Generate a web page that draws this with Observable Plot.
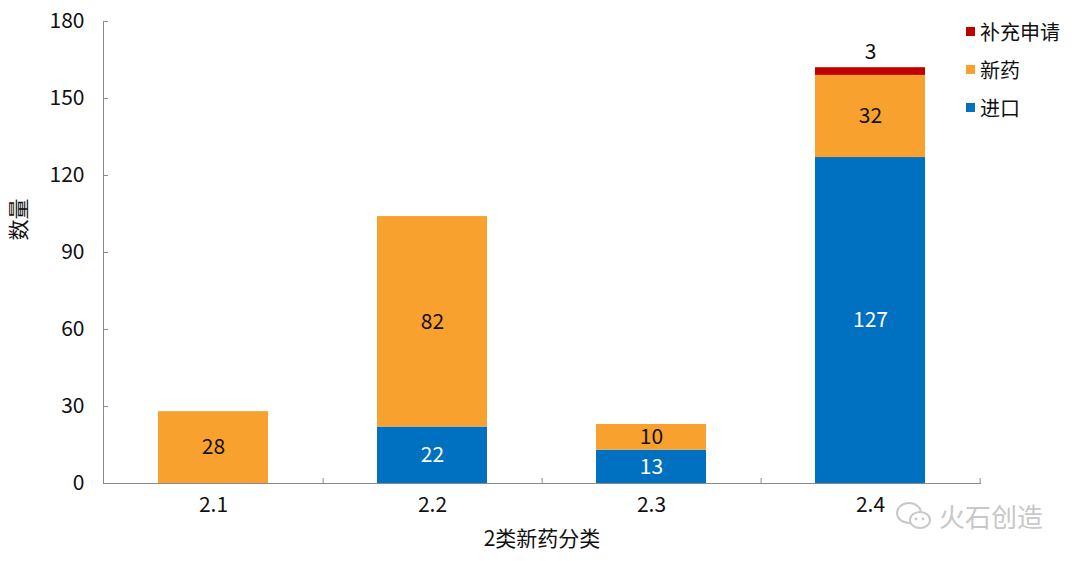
<!DOCTYPE html>
<html><head><meta charset="utf-8">
<script src="https://cdn.jsdelivr.net/npm/d3@7"></script>
<script src="https://cdn.jsdelivr.net/npm/@observablehq/plot@0.6"></script>
<style>
body{margin:0;background:#fff;font-family:"Noto Sans CJK SC",sans-serif;}
#wrap{position:relative;width:1080px;height:561px;}
#legend{position:absolute;left:966px;top:12px;font-size:20px;color:#111;}
#legend div{display:flex;align-items:center;height:38px;}
#legend span.sw{display:inline-block;width:9px;height:9px;margin-right:5px;}
#wm{position:absolute;left:893px;top:497px;font-size:26px;color:#c8c8c8;display:flex;align-items:center;}
</style></head><body>
<div id="wrap"><div id="chart"></div><div id="legend"></div>
<div id="wm"><svg width="42" height="34" viewBox="0 0 40 34" style="margin-right:4px"><ellipse cx="15" cy="14" rx="12" ry="10" fill="none" stroke="#c8c8c8" stroke-width="2"/><ellipse cx="26" cy="21" rx="10" ry="8" fill="#fff" stroke="#c8c8c8" stroke-width="2"/><circle cx="22" cy="20" r="1.4" fill="#c8c8c8"/><circle cx="29" cy="20" r="1.4" fill="#c8c8c8"/></svg>火石创造</div>
</div>
<script>
const categories = ["2.1","2.2","2.3","2.4"];
const seriesNames = ["进口","新药","补充申请"];
const importValues = [0,22,13,127];
const newDrugValues = [28,82,10,32];
const supplementValues = [0,0,0,3];
const yTicks = [0,30,60,90,120,150,180];
const yTitle = "数量";
const xTitle = "2类新药分类";
const colors = ["#0070C0","#F9A12E","#C00000"];

const seriesValues = [importValues,newDrugValues,supplementValues];
const data = [];
seriesNames.forEach((s,si)=>categories.forEach((c,ci)=>{
  data.push({cat:c,type:s,value:seriesValues[si][ci]});
}));

const font = '"Noto Sans CJK SC", sans-serif';
const ml = 103, mr = 100, W = 1080;
const step = (W - ml - mr) / categories.length;
const chart = Plot.plot({
  width:W, height:561,
  marginLeft:ml, marginRight:mr, marginTop:21, marginBottom:78,
  style:{fontFamily:font, fontSize:"21px", color:"#111", background:"#fff"},
  x:{domain:categories, paddingInner:0.5, paddingOuter:0.25, label:null},
  y:{domain:[0,180], ticks:yTicks, label:null},
  color:{domain:seriesNames, range:colors},
  marks:[
    Plot.barY(data, {x:"cat", y:"value", fill:"type", order:seriesNames, z:"type"}),
    Plot.text(data, Plot.stackY({x:"cat", y:"value", z:"type", order:seriesNames,
      text:d=>(d.type!=="补充申请" && d.value>0)? String(d.value):"",
      fill:d=>d.type==="进口"?"#fff":"#111", fontSize:21})),
    Plot.text(data, Plot.stackY2({x:"cat", y:"value", z:"type", order:seriesNames,
      text:d=>(d.type==="补充申请" && d.value>0)? String(d.value):"",
      fill:"#111", fontSize:21, dy:-15})),
    Plot.frame({anchor:"left", stroke:"#8a8a8a"}),
    Plot.frame({anchor:"bottom", stroke:"#8a8a8a"}),
    Plot.axisY({ticks:yTicks, tickSize:5, tickFormat:()=>"", dx:5, stroke:"#8a8a8a", label:null}),
    Plot.axisY({ticks:yTicks, tickSize:0, tickPadding:19, fill:"#111", fontSize:21, label:null}),
    Plot.text([yTitle], {text:d=>d, frameAnchor:"left", rotate:-90, dx:-84, dy:-12,
      fill:"#111", fontSize:21}),
    Plot.axisX({tickSize:5, tickFormat:()=>"", dx:step/2, dy:-5, stroke:"#8a8a8a", label:null}),
    Plot.axisX({tickSize:0, tickPadding:14, fill:"#111", fontSize:21,
      label:xTitle, labelAnchor:"center", labelArrow:"none", labelOffset:62})
  ]
});
document.getElementById("chart").append(chart);

const legend = document.getElementById("legend");
[...seriesNames].reverse().forEach(s=>{
  const row = document.createElement("div");
  const sw = document.createElement("span"); sw.className="sw";
  sw.style.background = colors[seriesNames.indexOf(s)];
  row.append(sw, document.createTextNode(s));
  legend.append(row);
});
</script></body></html>
